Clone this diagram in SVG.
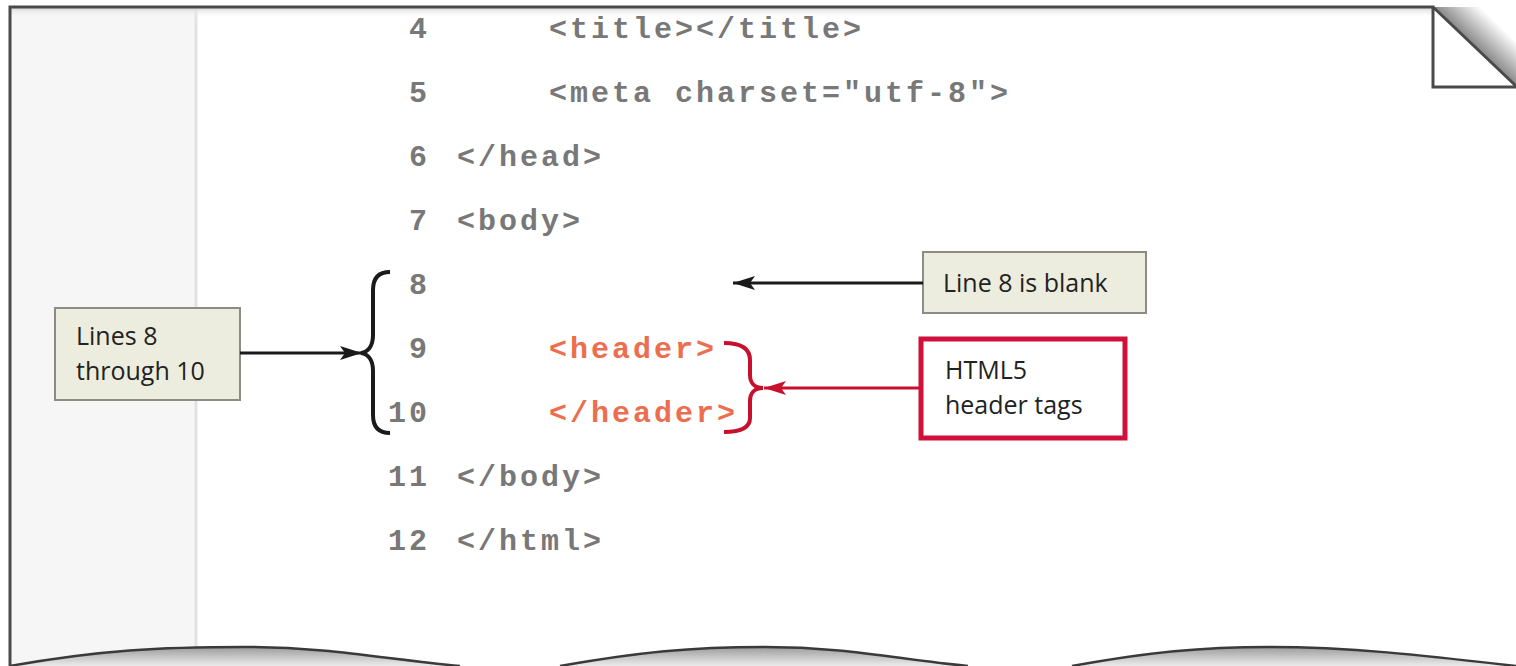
<svg xmlns="http://www.w3.org/2000/svg" width="1516" height="666" viewBox="0 0 1516 666">
<defs>
<style>
.code{font-family:"Liberation Mono","Courier New",monospace;font-weight:bold;font-size:30px;letter-spacing:3px;fill:#787878}
.red{fill:#ec6e4e}
.note{font-family:"Open Sans","Noto Sans",sans-serif;font-size:25px;fill:#222}
.callout{fill:#ededdf;stroke:#8c8c84;stroke-width:2}
.conn{fill:none;stroke:#1a1a1a;stroke-width:3}
.connr{fill:none;stroke:#c8102e;stroke-width:3}
</style>
<marker id="ah" markerUnits="userSpaceOnUse" markerWidth="26" markerHeight="18" refX="22" refY="9" orient="auto" viewBox="0 0 26 18">
<path d="M0,2 L22,9 L0,16 L5,9 Z" fill="#1a1a1a"/>
</marker>
<marker id="ahr" markerUnits="userSpaceOnUse" markerWidth="26" markerHeight="18" refX="22" refY="9" orient="auto" viewBox="0 0 26 18">
<path d="M0,2 L22,9 L0,16 L5,9 Z" fill="#c8102e"/>
</marker>
<linearGradient id="topband" x1="0" y1="0" x2="0" y2="1">
<stop offset="0" stop-color="#d8d8d8"/>
<stop offset="1" stop-color="#ffffff" stop-opacity="0"/>
</linearGradient>
<linearGradient id="foldsh" gradientUnits="userSpaceOnUse" x1="1475" y1="46" x2="1497" y2="23">
<stop offset="0" stop-color="#8a8a8a"/>
<stop offset="1" stop-color="#ffffff"/>
</linearGradient>
<linearGradient id="wave" x1="0" y1="0" x2="0" y2="1">
<stop offset="0" stop-color="#9c9c9c"/>
<stop offset="1" stop-color="#ececec"/>
</linearGradient>
</defs>

<rect x="0" y="0" width="1516" height="666" fill="#ffffff"/>

<g id="page">
<rect x="11" y="8" width="185" height="658" fill="#f6f6f7"/>
<line x1="196" y1="8" x2="196" y2="666" stroke="#e2e2e4" stroke-width="3"/>
<rect x="11" y="8" width="1422" height="10" fill="url(#topband)"/>
<polygon points="1433,7 1516,7 1516,86" fill="url(#foldsh)"/>
<polygon points="1433,7 1516,86 1433,86" fill="#ffffff"/>
<path d="M10,666 L10,7 L1433,7 L1433,87 L1516,87 M1433,7 L1516,86" fill="none" stroke="#4a4a4a" stroke-width="3"/>
<path d="M10,666 C100,650 160,647 245,647 C330,647 390,660 460,666 L560,666 C640,652 690,647 764,647 C850,647 900,660 968,666 L1072,666 C1150,652 1200,647 1270,647 C1350,647 1420,655 1516,666 Z" fill="url(#wave)"/>
<path d="M10,666 C100,650 160,647 245,647 C330,647 390,660 460,666 M560,666 C640,652 690,647 764,647 C850,647 900,660 968,666 M1072,666 C1150,652 1200,647 1270,647 C1350,647 1420,655 1516,666" fill="none" stroke="#3a3a3a" stroke-width="2.5"/>
</g>

<g id="code">
<text class="code" x="409" y="38">4</text>
<text class="code" x="549" y="38">&lt;title&gt;&lt;/title&gt;</text>
<text class="code" x="409" y="102">5</text>
<text class="code" x="549" y="102">&lt;meta charset="utf-8"&gt;</text>
<text class="code" x="409" y="166">6</text>
<text class="code" x="457" y="166">&lt;/head&gt;</text>
<text class="code" x="409" y="230">7</text>
<text class="code" x="457" y="230">&lt;body&gt;</text>
<text class="code" x="409" y="294">8</text>
<text class="code" x="409" y="358">9</text>
<text class="code red" x="549" y="358">&lt;header&gt;</text>
<text class="code" x="388" y="422">10</text>
<text class="code red" x="549" y="422">&lt;/header&gt;</text>
<text class="code" x="388" y="486">11</text>
<text class="code" x="457" y="486">&lt;/body&gt;</text>
<text class="code" x="388" y="550">12</text>
<text class="code" x="457" y="550">&lt;/html&gt;</text>
</g>

<g id="brace-lines">
<path d="M390,272 C379,272 373,278 373,290 L373,335 C373,346 368,352 361,353 C368,354 373,360 373,371 L373,415 C373,427 379,433 390,433" fill="none" stroke="#1a1a1a" stroke-width="4"/>
</g>

<g id="brace-header">
<path d="M724,343 C740,343 750,348 750,360 L750,375 C750,383 755,388 763,388 C755,388 750,393 750,401 L750,418 C750,428 740,432 724,432" fill="none" stroke="#c8102e" stroke-width="4"/>
</g>

<g id="node-lines">
<rect class="callout" x="55" y="308" width="185" height="92"/>
<text class="note" x="76" y="345">Lines 8</text>
<text class="note" x="76" y="380">through 10</text>
</g>

<g id="node-blank">
<rect class="callout" x="923" y="252" width="223" height="61"/>
<text class="note" x="943" y="292">Line 8 is blank</text>
</g>

<g id="node-html5">
<rect x="921" y="339" width="204" height="99" fill="#ffffff" stroke="#d0103a" stroke-width="5"/>
<text class="note" x="945" y="379">HTML5</text>
<text class="note" x="945" y="414">header tags</text>
</g>

<g id="connectors">
<line class="conn" x1="240" y1="353" x2="362" y2="353" marker-end="url(#ah)"/>
<line class="conn" x1="923" y1="283" x2="733" y2="283" marker-end="url(#ah)"/>
<line class="connr" x1="919" y1="388" x2="764" y2="388" marker-end="url(#ahr)"/>
</g>
</svg>
